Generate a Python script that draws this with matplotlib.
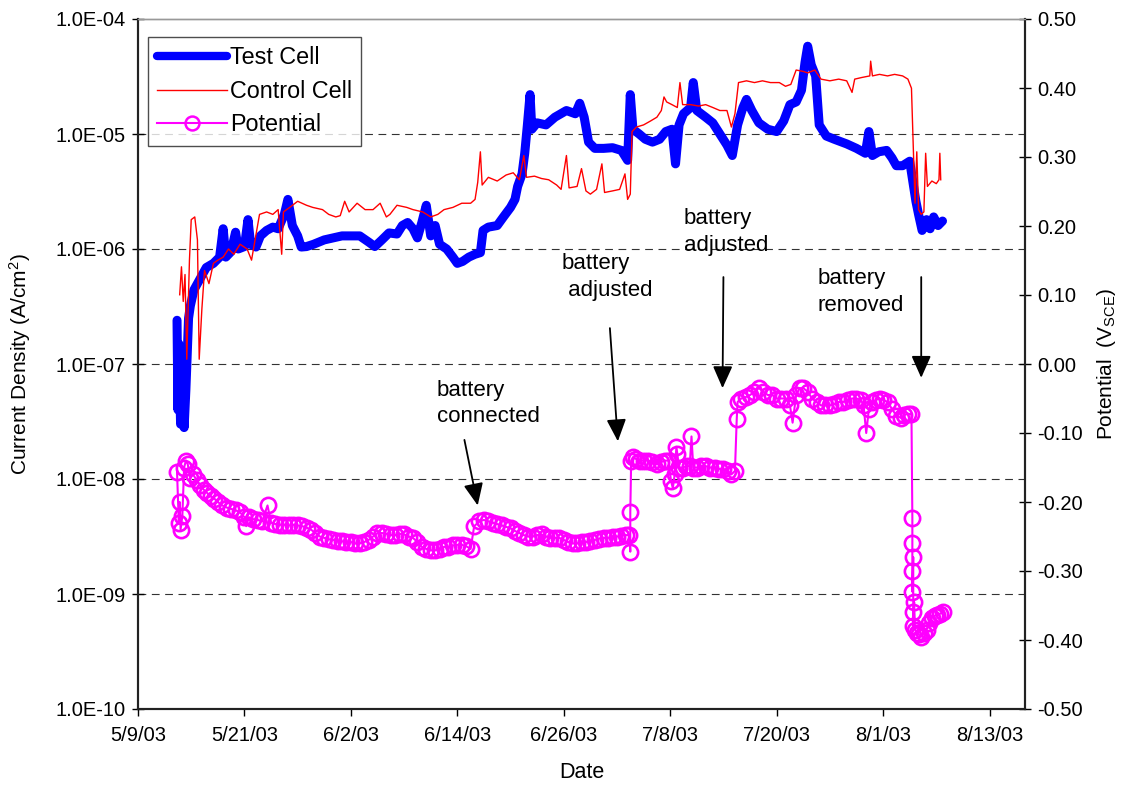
import datetime as dt
import matplotlib
matplotlib.use("Agg")
import matplotlib.pyplot as plt
from matplotlib.lines import Line2D
from matplotlib.ticker import FixedLocator, NullLocator

plt.rcParams['font.family'] = ['Liberation Sans', 'DejaVu Sans']
plt.rcParams['mathtext.fontset'] = 'custom'
plt.rcParams['mathtext.rm'] = 'Liberation Sans'
plt.rcParams['mathtext.it'] = 'Liberation Sans'
plt.rcParams['mathtext.default'] = 'regular'

start = dt.datetime(2003, 5, 9)

# Test cell current density (A/cm2), days after 5/9/03
test_days = [4.4, 4.5, 4.6, 4.8, 5.0, 5.2, 5.4, 5.7, 5.9, 6.3, 7.0, 7.7, 8.5, 9.2, 9.6, 9.9,
             10.5, 11.0, 11.3, 12.0, 12.4, 12.7, 13.3, 13.8, 14.5, 15.2, 15.8, 16.5, 16.9,
             17.4, 18.0, 18.4, 19.0, 19.8, 21.0, 22.0, 23.0, 24.0, 25.0, 26.0, 26.7, 27.5,
             28.3, 29.2, 29.8, 30.4, 31.0, 31.5, 32.0, 32.5, 33.0, 33.5, 34.0, 34.8, 35.5,
             36.0, 36.6, 37.3, 38.0, 38.6, 38.9, 39.5, 40.5, 41.2, 42.0, 42.5, 42.8, 43.3,
             43.6, 43.9, 44.2, 44.4, 45.0, 46.0, 47.0, 48.3, 49.3, 49.8, 50.3, 50.8, 51.5,
             52.5, 53.5, 54.5, 55.2, 55.5, 55.8, 56.5, 57.2, 58.0, 58.8, 59.5, 60.2, 60.6,
             61.0, 61.5, 62.3, 62.6, 63.0, 64.0, 64.8, 65.6, 66.4, 67.0, 67.6, 68.2, 68.6,
             69.2, 70.0, 71.0, 72.0, 72.8, 73.5, 74.2, 74.8, 75.2, 75.5, 75.9, 76.4, 76.8,
             77.6, 78.5, 79.9, 81.0, 82.0, 82.4, 82.8, 83.5, 84.4, 85.0, 85.5, 86.2, 87.0,
             87.3, 87.7, 88.0, 88.4, 88.9, 89.3, 89.7, 90.2, 90.7]
test_cell = [2.4e-7, 4e-8, 1.5e-7, 3e-8, 1.0e-7, 2.8e-8, 6e-8, 2.5e-7, 3.2e-7, 4.4e-7, 5.5e-7,
             6.9e-7, 7.5e-7, 8.5e-7, 1.5e-6, 8.5e-7, 9.5e-7, 1.4e-6, 1.0e-6, 1.05e-6, 1.8e-6,
             1.1e-6, 1.04e-6, 1.3e-6, 1.45e-6, 1.55e-6, 1.5e-6, 2.0e-6, 2.7e-6, 1.6e-6, 1.3e-6,
             1.04e-6, 1.05e-6, 1.1e-6, 1.2e-6, 1.25e-6, 1.3e-6, 1.3e-6, 1.3e-6, 1.15e-6,
             1.05e-6, 1.2e-6, 1.38e-6, 1.35e-6, 1.6e-6, 1.7e-6, 1.5e-6, 1.25e-6, 1.7e-6,
             2.4e-6, 1.3e-6, 1.6e-6, 1.1e-6, 1.0e-6, 8.5e-7, 7.5e-7, 7.8e-7, 8.5e-7, 9.0e-7,
             9.3e-7, 1.45e-6, 1.55e-6, 1.6e-6, 1.9e-6, 2.3e-6, 2.7e-6, 3.5e-6, 4.5e-6, 6.8e-6,
             1.2e-5, 2.2e-5, 1.1e-5, 1.25e-5, 1.2e-5, 1.4e-5, 1.6e-5, 1.5e-5, 1.85e-5, 1.4e-5,
             8.5e-6, 7.5e-6, 7.5e-6, 7.6e-6, 7.2e-6, 5.9e-6, 2.2e-5, 1.1e-5, 1.0e-5, 9e-6,
             8.5e-6, 9e-6, 1.05e-5, 1.1e-5, 5.5e-6, 1.2e-5, 1.5e-5, 1.7e-5, 2.8e-5, 1.6e-5,
             1.4e-5, 1.25e-5, 1.0e-5, 8e-6, 6.5e-6, 1.2e-5, 1.7e-5, 2.0e-5, 1.6e-5, 1.25e-5,
             1.1e-5, 1.05e-5, 1.3e-5, 1.8e-5, 1.9e-5, 2.4e-5, 4.2e-5, 5.8e-5, 4.0e-5, 3.2e-5,
             1.2e-5, 9.6e-6, 9.0e-6, 8.2e-6, 7.5e-6, 6.8e-6, 1.05e-5, 6.5e-6, 7.0e-6, 7.2e-6,
             6.2e-6, 5.3e-6, 5.3e-6, 5.8e-6, 4.1e-6, 2.6e-6, 2.0e-6, 1.45e-6, 1.8e-6, 1.5e-6,
             1.9e-6, 1.6e-6, 1.75e-6]

# Control cell current density (A/cm2)
ctrl_days = [4.7, 4.9, 5.1, 5.3, 5.5, 5.8, 6.0, 6.4, 6.7, 6.9, 7.2, 7.5, 8.0, 8.5, 9.0, 9.6,
             10.2, 10.8, 11.5, 12.3, 12.8, 13.2, 13.7, 14.5, 15.2, 15.8, 16.2, 16.4, 17.1,
             18.0, 19.0, 19.7, 20.8, 21.5, 22.3, 22.8, 23.3, 23.8, 24.7, 25.6, 26.5, 27.3,
             28.0, 28.4, 29.2, 30.3, 31.0, 32.1, 33.0, 33.8, 34.5, 35.5, 36.5, 37.5, 38.0,
             38.3, 38.6, 38.8, 39.5, 40.5, 41.5, 42.3, 43.0, 43.5, 43.8, 44.7, 45.5, 46.3,
             47.2, 47.7, 48.3, 48.6, 49.5, 50.0, 50.5, 51.0, 51.7, 52.3, 52.6, 53.5, 54.3,
             54.9, 55.2, 55.5, 55.7, 56.2, 57.0, 57.8, 58.5, 59.0, 59.3, 59.6, 60.2, 60.8,
             61.1, 61.4, 62.3, 63.2, 64.0, 64.8, 65.6, 66.4, 66.9, 67.3, 67.7, 68.6, 69.5,
             70.4, 71.3, 72.3, 73.0, 73.6, 74.2, 75.0, 75.5, 76.3, 77.0, 78.0, 79.0, 79.9,
             80.5, 80.8, 81.6, 82.5, 82.6, 82.8, 83.6, 84.5, 85.3, 86.2, 86.8, 87.2, 87.4,
             87.6, 87.8, 88.0, 88.3, 88.6, 88.8, 89.0, 89.5, 90.0, 90.3, 90.4, 90.5]
control_cell = [4e-7, 7e-7, 3.5e-7, 6e-7, 1.1e-7, 8e-7, 1.8e-6, 1.9e-6, 1.2e-6, 1.1e-7, 3e-7,
                6.5e-7, 5e-7, 7.5e-7, 8e-7, 8.5e-7, 1.0e-6, 9e-7, 1.1e-6, 1.0e-6, 8e-7, 1.2e-6,
                2e-6, 2.1e-6, 2.0e-6, 2.2e-6, 9e-7, 2.1e-6, 2.3e-6, 2.6e-6, 2.4e-6, 2.3e-6,
                2.2e-6, 2.0e-6, 1.9e-6, 1.95e-6, 2.6e-6, 2.1e-6, 2.5e-6, 2.2e-6, 2.2e-6,
                2.5e-6, 1.9e-6, 2.0e-6, 2.4e-6, 2.3e-6, 2.2e-6, 2.1e-6, 1.9e-6, 2.0e-6, 2.2e-6,
                2.3e-6, 2.5e-6, 2.5e-6, 2.7e-6, 3.8e-6, 7e-6, 3.6e-6, 4.2e-6, 3.9e-6, 4.4e-6,
                4.6e-6, 4.0e-6, 6.5e-6, 4.2e-6, 4.3e-6, 4.1e-6, 4.0e-6, 3.6e-6, 3.3e-6, 6.5e-6,
                3.4e-6, 3.5e-6, 5e-6, 3.2e-6, 3.0e-6, 3.3e-6, 5.5e-6, 3.1e-6, 3.2e-6, 3.3e-6,
                4.5e-6, 2.7e-6, 3.0e-6, 1.05e-5, 1.15e-5, 1.2e-5, 1.3e-5, 1.4e-5, 1.6e-5,
                2.1e-5, 1.9e-5, 1.8e-5, 1.7e-5, 2.8e-5, 1.8e-5, 1.8e-5, 1.75e-5, 1.8e-5,
                1.7e-5, 1.6e-5, 1.6e-5, 1.15e-5, 1.5e-5, 2.8e-5, 2.9e-5, 2.8e-5, 2.9e-5,
                2.8e-5, 2.8e-5, 2.6e-5, 2.7e-5, 3.6e-5, 3.5e-5, 3.4e-5, 3.6e-5, 3.0e-5, 2.9e-5,
                3.0e-5, 2.9e-5, 2.3e-5, 3.0e-5, 3.1e-5, 3.2e-5, 4.3e-5, 3.2e-5, 3.3e-5, 3.2e-5,
                3.3e-5, 3.2e-5, 3.0e-5, 2.5e-5, 8e-6, 2.5e-6, 7e-6, 2.2e-6, 2.0e-6, 2.1e-6,
                6.8e-6, 3.5e-6, 3.9e-6, 3.7e-6, 4.0e-6, 6.8e-6, 4.0e-6]

# Potential (V vs SCE), ten readings per row
pot_days = [4.4, 4.6, 4.7, 4.8, 5.0, 5.2, 5.4, 5.6, 5.9, 6.2,
            6.6, 7.0, 7.4, 7.8, 8.2, 8.6, 9.0, 9.5, 10.0, 10.5,
            11.0, 11.5, 12.0, 12.2, 12.5, 13.0, 13.5, 14.0, 14.6, 15.0,
            15.5, 16.0, 16.5, 17.0, 17.5, 18.0, 18.5, 19.0, 19.5, 20.0,
            20.5, 21.0, 21.5, 22.0, 22.5, 23.0, 23.5, 24.0, 24.5, 25.0,
            25.5, 26.0, 26.5, 27.0, 27.5, 28.0, 28.5, 29.0, 29.5, 30.0,
            30.5, 31.0, 31.5, 32.0, 32.5, 33.0, 33.5, 34.0, 34.5, 35.0,
            35.5, 36.0, 36.5, 37.0, 37.5, 37.9, 38.5, 39.0, 39.5, 40.0,
            40.5, 41.0, 41.5, 42.0, 42.5, 43.0, 43.5, 44.0, 44.5, 45.0,
            45.5, 46.0, 46.5, 47.0, 47.5, 48.0, 48.5, 49.0, 49.5, 50.0,
            50.5, 51.0, 51.5, 52.0, 52.5, 53.0, 53.5, 54.0, 54.5, 55.0,
            55.4, 55.5, 55.5, 55.6, 55.8, 56.2, 56.6, 57.0, 57.5, 58.0,
            58.5, 59.0, 59.4, 59.8, 60.1, 60.3, 60.5, 60.7, 60.8, 61.0,
            61.4, 61.8, 62.2, 62.4, 62.6, 63.0, 63.5, 64.0, 64.5, 65.0,
            65.5, 66.0, 66.5, 66.9, 67.3, 67.5, 67.6, 68.0, 68.5, 69.0,
            69.5, 70.0, 70.5, 71.0, 71.5, 72.0, 72.5, 73.0, 73.5, 73.8,
            74.2, 74.6, 75.0, 75.5, 76.0, 76.5, 77.0, 77.5, 78.0, 78.5,
            79.0, 79.5, 80.0, 80.5, 81.0, 81.5, 81.8, 82.1, 82.4, 82.8,
            83.2, 83.6, 84.0, 84.5, 85.0, 85.5, 86.0, 86.4, 86.8, 87.2,
            87.3, 87.3, 87.3, 87.3, 87.4, 87.4, 87.4, 87.5, 87.6, 87.8,
            88.0, 88.3, 88.6, 88.9, 89.2, 89.5, 89.8, 90.1, 90.4, 90.7]
potential = [-0.156, -0.23, -0.20, -0.24, -0.22, -0.15, -0.14, -0.145, -0.165, -0.16,
             -0.168, -0.175, -0.182, -0.187, -0.192, -0.195, -0.2, -0.205, -0.208, -0.21,
             -0.212, -0.215, -0.222, -0.235, -0.222, -0.225, -0.226, -0.228, -0.205, -0.23,
             -0.232, -0.233, -0.233, -0.234, -0.233, -0.234, -0.235, -0.237, -0.24, -0.245,
             -0.25, -0.252, -0.254, -0.255, -0.256, -0.257, -0.258, -0.258, -0.26, -0.26,
             -0.258, -0.255, -0.25, -0.245, -0.245, -0.246, -0.248, -0.248, -0.246, -0.247,
             -0.25, -0.252, -0.258, -0.265, -0.268, -0.27, -0.27, -0.268, -0.265, -0.265,
             -0.263, -0.262, -0.262, -0.264, -0.268, -0.235, -0.228, -0.226, -0.228, -0.23,
             -0.232, -0.234, -0.236, -0.238, -0.242, -0.245, -0.248, -0.25, -0.25, -0.248,
             -0.247, -0.25, -0.252, -0.252, -0.252, -0.255, -0.258, -0.26, -0.26, -0.258,
             -0.258, -0.256, -0.255, -0.253, -0.252, -0.252, -0.25, -0.25, -0.249, -0.248,
             -0.248, -0.272, -0.215, -0.14, -0.135, -0.138, -0.14, -0.14, -0.14, -0.142,
             -0.145, -0.142, -0.14, -0.14, -0.17, -0.18, -0.16, -0.12, -0.13, -0.15,
             -0.15, -0.148, -0.148, -0.105, -0.15, -0.15, -0.148, -0.148, -0.15, -0.15,
             -0.152, -0.152, -0.155, -0.16, -0.155, -0.08, -0.055, -0.05, -0.048, -0.045,
             -0.04, -0.035, -0.04, -0.045, -0.045, -0.05, -0.05, -0.05, -0.06, -0.085,
             -0.045, -0.035, -0.035, -0.04, -0.05, -0.055, -0.06, -0.06, -0.06, -0.058,
             -0.055, -0.055, -0.052, -0.05, -0.05, -0.052, -0.06, -0.10, -0.065, -0.055,
             -0.052, -0.05, -0.052, -0.055, -0.065, -0.075, -0.078, -0.074, -0.072, -0.073,
             -0.223, -0.26, -0.30, -0.33, -0.28, -0.36, -0.38, -0.345, -0.385, -0.39,
             -0.392, -0.395, -0.39, -0.385, -0.375, -0.368, -0.365, -0.364, -0.362, -0.36]

xtick_days = [0, 12, 24, 36, 48, 60, 72, 84, 96]
left_ticks = [1e-10, 1e-9, 1e-8, 1e-7, 1e-6, 1e-5, 1e-4]
right_ticks = [-0.5, -0.4, -0.3, -0.2, -0.1, 0.0, 0.1, 0.2, 0.3, 0.4, 0.5]

# annotations: text, text top-left (day, V), arrow tail (day, V), arrow head (day, V)
notes = [
    ("battery\nconnected", (33.7, -0.023), (36.8, -0.110), (38.3, -0.205)),
    ("battery\n adjusted", (47.8, 0.161), (53.2, 0.052), (54.1, -0.112)),
    ("battery\nadjusted", (61.5, 0.226), (66.0, 0.126), (65.9, -0.035)),
    ("battery\nremoved", (76.6, 0.139), (88.3, 0.126), (88.3, -0.020)),
]


def to_dates(days):
    return [start + dt.timedelta(days=d) for d in days]


fig = plt.figure(figsize=(11.26, 7.9), dpi=100)
ax = fig.add_axes([138 / 1126, 1 - 709 / 790, 887 / 1126, 690 / 790])
ax2 = ax.twinx()

ax.plot(to_dates(test_days), test_cell, color='#0000FF', lw=6.5, solid_capstyle='round',
        solid_joinstyle='round', zorder=3)
ax.plot(to_dates(ctrl_days), control_cell, color='#FF0000', lw=1.0, zorder=4)
ax2.plot(to_dates(pot_days), potential, color='#FF00FF', lw=1.5, marker='o', ms=11,
         mfc='none', mec='#FF00FF', mew=1.9)

ax.set_yscale('log')
ax.set_ylim(1e-10, 1e-4)
ax.yaxis.set_major_locator(FixedLocator(left_ticks))
ax.yaxis.set_minor_locator(NullLocator())
ax.set_yticklabels([f"{v:.1E}" for v in left_ticks])
for v in left_ticks[1:-1]:
    ax.axhline(v, color='#333333', lw=0.8, ls=(0, (7, 5)), zorder=1)

ax2.set_ylim(-0.5, 0.5)
ax2.set_yticks(right_ticks)
ax2.set_yticklabels([f"{v:.2f}" for v in right_ticks])

xt = to_dates(xtick_days)
ax.set_xlim(start, start + dt.timedelta(days=100))
ax.set_xticks(xt)
ax.set_xticklabels([f"{d.month}/{d.day}/{d:%y}" for d in xt])

for a in (ax, ax2):
    for s in a.spines.values():
        s.set_color('#222222')
        s.set_linewidth(1.5)
    a.spines['top'].set_color('#999999')
    a.spines['top'].set_linewidth(1.0)
ax.tick_params(axis='y', direction='inout', length=8, width=1, labelsize=14.5, pad=5)
ax2.tick_params(axis='y', direction='inout', length=8, width=1, labelsize=14.5, pad=5)
ax.tick_params(axis='x', direction='out', length=5, width=1, labelsize=14.5, pad=7)

ax.set_ylabel('Current Density (A/cm$^2$)', fontsize=15)
ax.yaxis.set_label_coords(-0.118, 0.5)
ax2.set_ylabel('Potential  (V$_{SCE}$)', fontsize=15)
ax2.yaxis.set_label_coords(1.079, 0.5)
ax.set_xlabel('Date', fontsize=15.5)
ax.xaxis.set_label_coords(0.5, -0.077)

for text, tpos, tail, head in notes:
    ax2.text(start + dt.timedelta(days=tpos[0]), tpos[1], text, fontsize=16,
             ha='left', va='top', linespacing=1.35)
    ax2.annotate('', xy=(start + dt.timedelta(days=head[0]), head[1]),
                 xytext=(start + dt.timedelta(days=tail[0]), tail[1]),
                 arrowprops=dict(arrowstyle='-|>,head_length=1.35,head_width=0.6',
                                 color='black', lw=1.3, shrinkA=0, shrinkB=0))

handles = [
    Line2D([], [], color='#0000FF', lw=6, solid_capstyle='round'),
    Line2D([], [], color='#FF0000', lw=1.0),
    Line2D([], [], color='#FF00FF', lw=1.5, marker='o', ms=10, mfc='none', mew=1.8),
]
leg = ax2.legend(handles, ['Test Cell', 'Control Cell', 'Potential'], loc='upper left',
                 bbox_to_anchor=(148 / 1126, 1 - 37 / 790), bbox_transform=fig.transFigure,
                 borderaxespad=0, fontsize=16.8, frameon=True, fancybox=False,
                 handlelength=3.0, handletextpad=0.1, labelspacing=0.45, borderpad=0.4)
leg.get_frame().set_edgecolor('#222222')
leg.get_frame().set_linewidth(1.0)

fig.savefig('out.png', dpi=100)
